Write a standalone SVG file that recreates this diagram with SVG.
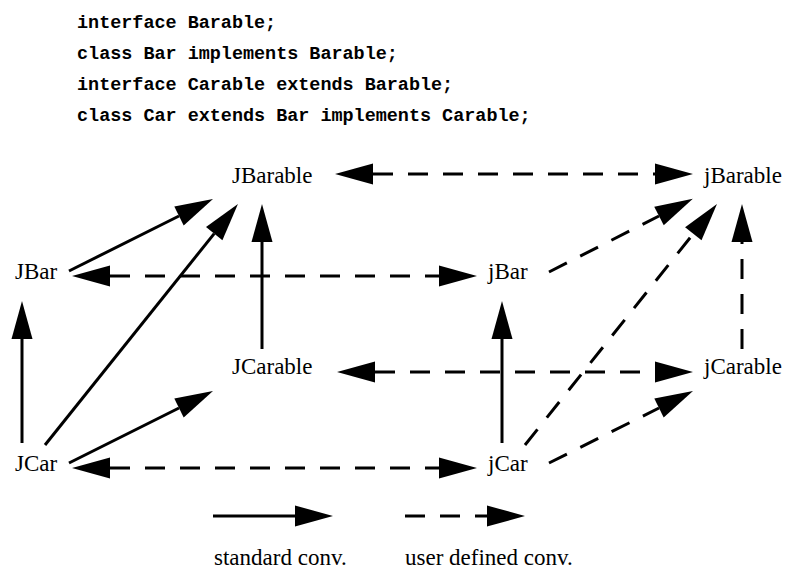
<svg xmlns="http://www.w3.org/2000/svg" width="787" height="571" viewBox="0 0 787 571">
  <style>
    .code { font-family: "Liberation Mono", "Courier New", monospace; font-weight: bold; font-size: 18.45px; fill: #000; }
    .label { font-family: "Liberation Serif", "Times New Roman", serif; font-size: 23px; fill: #000; }
    .std { stroke: #000; stroke-width: 3; fill: none; marker-end: url(#head); }
    .usr { stroke: #000; stroke-width: 3; fill: none; stroke-dasharray: 20 15; marker-end: url(#head); }
    .both { marker-start: url(#head); }
  </style>
  <defs>
    <!-- filled triangular arrowhead; base sits on the line end, tip extends 38px beyond -->
    <marker id="head" markerUnits="userSpaceOnUse" markerWidth="40" markerHeight="22" refX="0" refY="10.5" orient="auto-start-reverse" overflow="visible">
      <path d="M0,0 L38,10.5 L0,21 Z" fill="#000"/>
    </marker>
  </defs>

  <rect width="787" height="571" fill="#fff"/>

  <!-- Java declarations -->
  <g id="code">
    <text class="code" x="77" y="28">interface Barable;</text>
    <text class="code" x="77" y="59">class Bar implements Barable;</text>
    <text class="code" x="77" y="90">interface Carable extends Barable;</text>
    <text class="code" x="77" y="121">class Car extends Bar implements Carable;</text>
  </g>

  <!-- conversion graph -->
  <g id="connectors">
    <!-- user defined conversions between J* and j* (both directions) -->
    <line class="usr both" x1="373" y1="174" x2="655" y2="174"/>
    <line class="usr both" x1="110" y1="276" x2="439" y2="276"/>
    <line class="usr both" x1="375" y1="372" x2="655" y2="372"/>
    <line class="usr both" x1="110" y1="468" x2="439" y2="468"/>

    <!-- standard conversions among J* types -->
    <line class="std" x1="69" y1="271" x2="179" y2="216"/>
    <line class="std" x1="45" y1="445" x2="214.2" y2="233.6"/>
    <line class="std" x1="262" y1="349" x2="262" y2="242"/>
    <line class="std" x1="22" y1="443" x2="22" y2="339"/>
    <line class="std" x1="69" y1="463" x2="179" y2="408"/>

    <!-- conversions among j* types -->
    <line class="usr" x1="549" y1="272" x2="659" y2="216"/>
    <line class="usr" x1="525" y1="445" x2="693.3" y2="233.7"/>
    <line class="usr" x1="742" y1="349" x2="742" y2="242"/>
    <line class="std" x1="502" y1="443" x2="502" y2="339"/>
    <line class="usr" x1="549" y1="463" x2="659" y2="408"/>

    <!-- legend arrows -->
    <line class="std" x1="213" y1="516" x2="295" y2="516"/>
    <line class="usr" x1="405" y1="516" x2="487" y2="516" stroke-dasharray="10 20 23 19"/>
  </g>

  <g id="JBarable"><text class="label" x="232" y="183">JBarable</text></g>
  <g id="jBarable"><text class="label" x="704" y="183">jBarable</text></g>
  <g id="JBar"><text class="label" x="15" y="279">JBar</text></g>
  <g id="jBar"><text class="label" x="488" y="279">jBar</text></g>
  <g id="JCarable"><text class="label" x="232" y="374">JCarable</text></g>
  <g id="jCarable"><text class="label" x="704" y="374">jCarable</text></g>
  <g id="JCar"><text class="label" x="15" y="471">JCar</text></g>
  <g id="jCar"><text class="label" x="488" y="471">jCar</text></g>

  <g id="legend">
    <text class="label" x="214" y="565">standard conv.</text>
    <text class="label" x="405" y="565">user defined conv.</text>
  </g>
</svg>
